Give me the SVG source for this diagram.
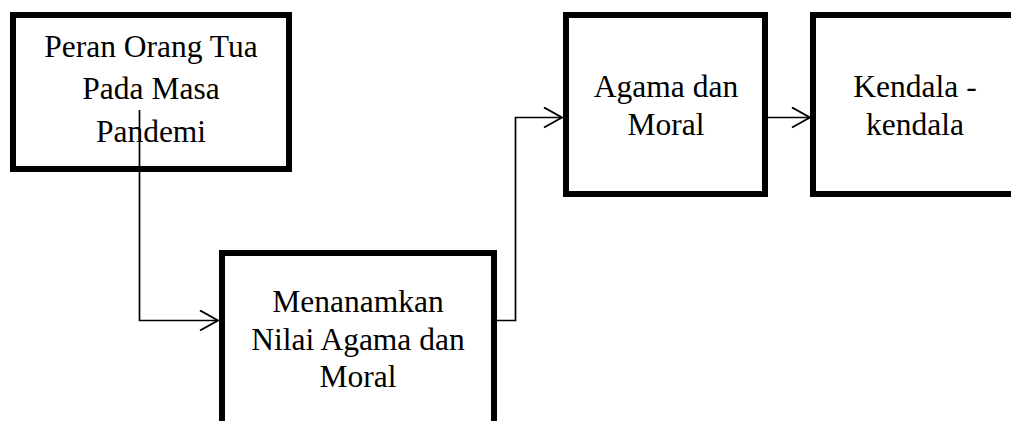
<svg xmlns="http://www.w3.org/2000/svg" width="1011" height="421" viewBox="0 0 1011 421">
<style>
.box{fill:#fff;stroke:#000;stroke-width:6}
.t{font-family:"Liberation Serif","Times New Roman",serif;font-size:31.5px;fill:#000;text-anchor:middle}
.c{fill:none;stroke:#000;stroke-width:1.7}
</style>
<defs>
<marker id="arr" viewBox="0 0 20 22" refX="19" refY="11" markerWidth="20" markerHeight="22" markerUnits="userSpaceOnUse" orient="auto">
<path d="M1,1 L19,11 L1,21" fill="none" stroke="#000" stroke-width="2"/>
</marker>
</defs>
<g id="node1">
<rect class="box" x="13" y="15" width="276" height="154"/>
<text class="t" x="151" y="57">Peran Orang Tua</text>
<text class="t" x="151" y="99">Pada Masa</text>
<text class="t" x="151" y="142">Pandemi</text>
</g>
<g id="node2">
<rect class="box" x="222" y="253" width="272" height="200"/>
<text class="t" x="358" y="312">Menanamkan</text>
<text class="t" x="358" y="350">Nilai Agama dan</text>
<text class="t" x="358" y="387">Moral</text>
</g>
<g id="node3">
<rect class="box" x="566" y="15" width="199" height="179"/>
<text class="t" x="666" y="97">Agama dan</text>
<text class="t" x="666" y="135">Moral</text>
</g>
<g id="node4">
<rect class="box" x="813" y="15" width="220" height="179"/>
<text class="t" x="915" y="97">Kendala -</text>
<text class="t" x="915" y="135">kendala</text>
</g>
<g id="connectors">
<path class="c" d="M139.5,110 V320.5 H218" marker-end="url(#arr)"/>
<path class="c" d="M497,320.5 H515.5 V117.5 H562" marker-end="url(#arr)"/>
<path class="c" d="M768,117.5 H810" marker-end="url(#arr)"/>
</g>
</svg>
